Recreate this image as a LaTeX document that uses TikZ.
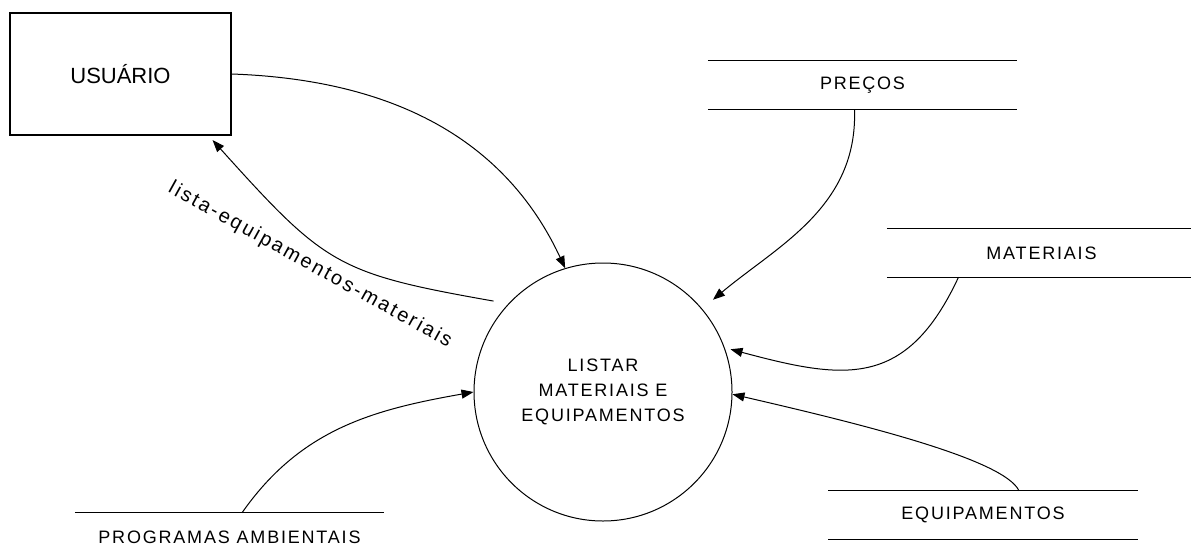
\documentclass[tikz,border=0pt]{standalone}
\usepackage{fontspec}
\setmainfont{Liberation Sans}
\newfontfamily\fontedfd[LetterSpace=10]{Liberation Sans}
\newfontfamily\fonterotulo[LetterSpace=12]{Liberation Sans}
\usetikzlibrary{arrows.meta}

\newcommand{\textodfd}{\fontedfd\fontsize{18}{25}\selectfont}
\newcommand{\textousuario}{\fontsize{22}{26}\selectfont}
\newcommand{\textorotulo}{\fonterotulo\fontsize{20}{24}\selectfont}

\tikzset{
  entidade/.style={draw, line width=1.3pt, minimum width=221pt, minimum height=122pt, font=\textousuario},
  processo/.style={circle, draw, line width=1pt, minimum size=258pt, align=center, font=\textodfd},
  deposito/.style={minimum width=309pt, minimum height=48pt, font=\textodfd},
  linha/.style={line width=1.3pt},
  fluxo/.style={-{Triangle[length=12pt,width=9pt]}, line width=1pt},
}

\begin{document}
\begin{tikzpicture}[x=1pt, y=-1pt]
\useasboundingbox (0,0) rectangle (1191,557);

% entidade externa e processo
\node [entidade] (usuario) at (120.5,74) {USUÁRIO};
\node [processo] (listar) at (603,392) {LISTAR\\MATERIAIS E\\EQUIPAMENTOS};

% depositos de dados
\node [deposito] (precos) at (862.5,85) {PREÇOS};
\draw [linha] (precos.north west) -- (precos.north east) (precos.south west) -- (precos.south east);
\node [deposito] (materiais) at (1041.5,253) {MATERIAIS};
\draw [linha] (materiais.north west) -- (materiais.north east) (materiais.south west) -- (materiais.south east);
\node [deposito] (equipamentos) at (983,515) {EQUIPAMENTOS};
\draw [linha] (equipamentos.north west) -- (equipamentos.north east) (equipamentos.south west) -- (equipamentos.south east);
\node [deposito] (programas) at (229.5,537) {PROGRAMAS AMBIENTAIS};
\draw [linha] (programas.north west) -- (programas.north east);

% fluxos
\draw [fluxo] (usuario.east) to[out=-2, in=115] (listar.107);
\draw [fluxo, shorten <=15pt, shorten >=6pt] (listar.137) to[out=170, in=-48, looseness=1.3] (usuario.-35);
\draw [fluxo, shorten >=14pt] ([xshift=-8pt]precos.south) to[out=-88, in=40] (listar.40);
\draw [fluxo, shorten >=6pt] ([xshift=-83pt]materiais.south) to[out=-115, in=-15, looseness=1.3] (listar.20);
\draw [fluxo] ([xshift=36pt]equipamentos.north) to[out=115, in=-13, out distance=35pt, in distance=130pt] (listar.-1);
\draw [fluxo] ([xshift=12.5pt]programas.north) to[out=55, in=190] (listar.180);

% rotulo do fluxo de saida
\node [font=\textorotulo, rotate=-29] (rotulo) at (310,265) {lista-equipamentos-materiais};

\end{tikzpicture}
\end{document}
